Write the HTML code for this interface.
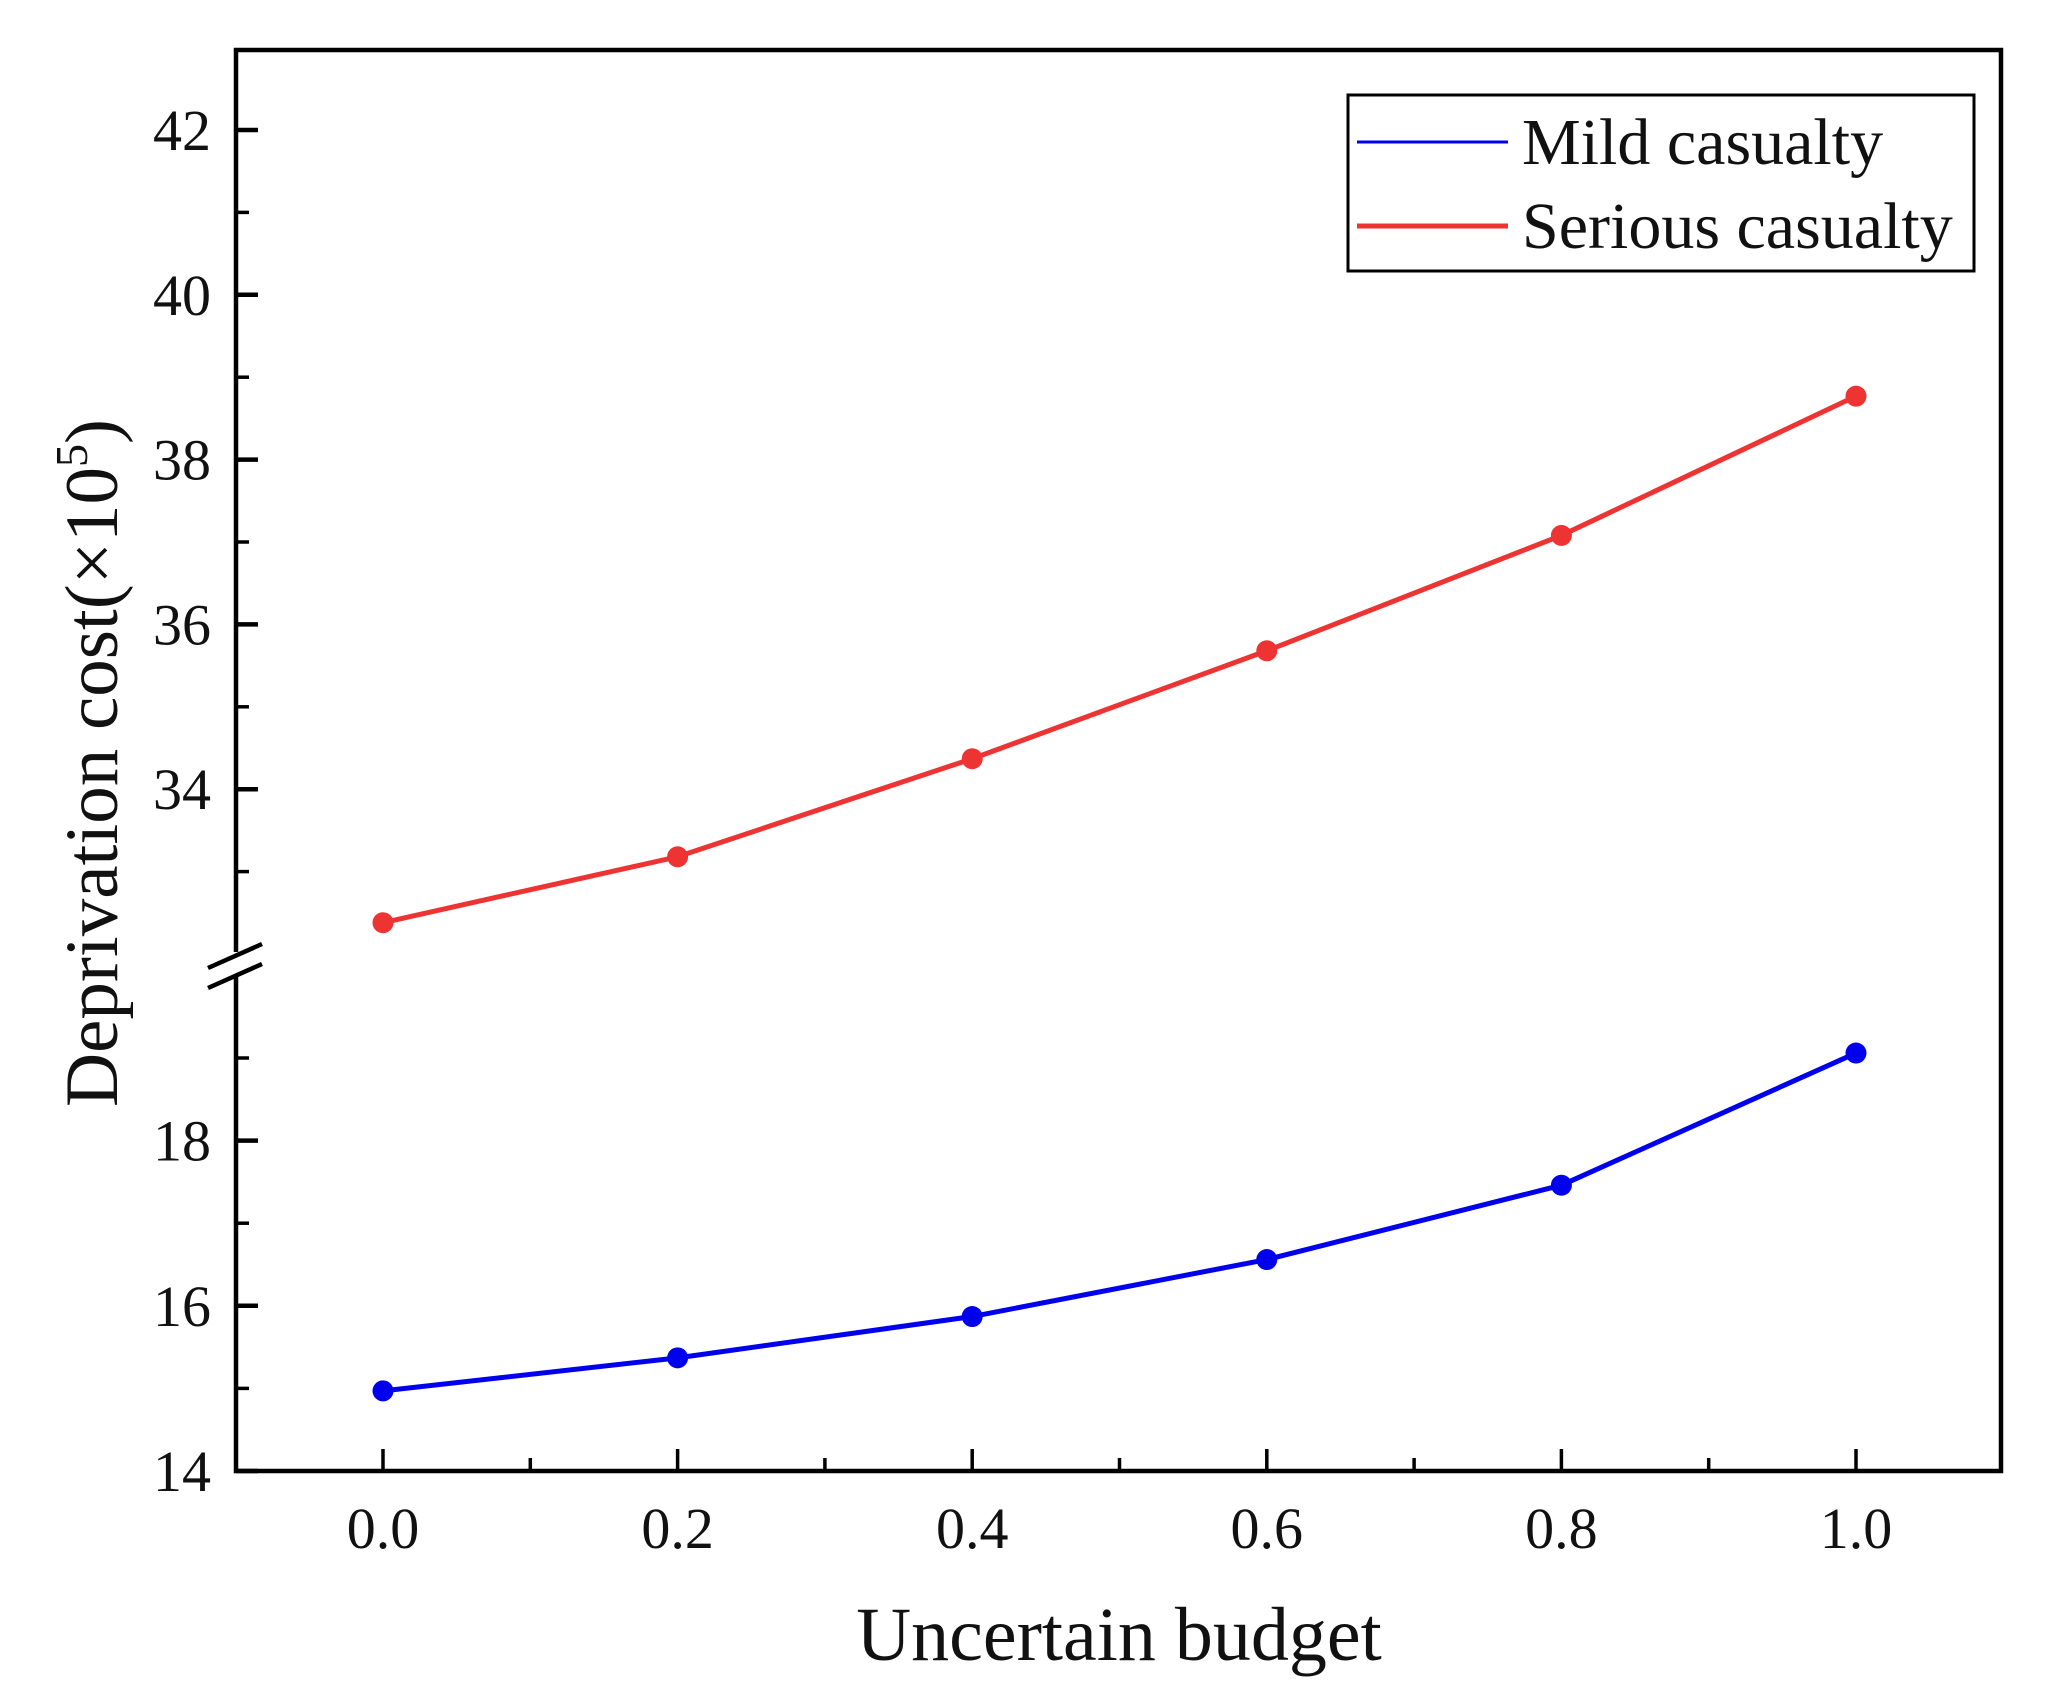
<!DOCTYPE html>
<html><head><meta charset="utf-8"><style>
html,body{margin:0;padding:0;background:#fff;}
svg{display:block;}
text{font-family:"Liberation Serif",serif;fill:#111;}
</style></head><body>
<svg id="chart" width="2055" height="1704" viewBox="0 0 2055 1704" xmlns="http://www.w3.org/2000/svg">
<g id="marks"></g>
</svg>
<script>
const xCats = [0.0, 0.2, 0.4, 0.6, 0.8, 1.0];
const xTickLabels = ["0.0","0.2","0.4","0.6","0.8","1.0"];
const mildValues = [14.97, 15.37, 15.87, 16.56, 17.46, 19.06];
const seriousValues = [32.38, 33.18, 34.37, 35.68, 37.08, 38.77];
const lowerTicks = [14, 16, 18];
const lowerMinor = [15, 17, 19];
const upperTicks = [34, 36, 38, 40, 42];
const upperMinor = [33, 35, 37, 39, 41];
const xMinor = [0.1, 0.3, 0.5, 0.7, 0.9];

const NS = "http://www.w3.org/2000/svg";
const L = 236, R = 2001, T = 50, B = 1471;
function xs(v){ return 383 + (v - 0) * (1856 - 383); }
function ys(v){
  if (v <= 25) return 1471 - (v - 14) * 82.6;
  return 130 + (42 - v) * 82.4;
}
const g = document.getElementById('marks');
function el(tag, attrs, parent){
  const e = document.createElementNS(NS, tag);
  for (const k in attrs) e.setAttribute(k, attrs[k]);
  (parent || g).appendChild(e);
  return e;
}

const frame = el('rect', {x:L, y:T, width:R-L, height:B-T, fill:'none', stroke:'#000', 'stroke-width':4.5});



const gap = el('rect', {x:L-6, y:952, width:12, height:24, fill:'#fff'});


[954, 974].forEach(function(yy){
  const b = el('line', {x1:L-28, y1:yy+14, x2:L+26, y2:yy-10, stroke:'#000', 'stroke-width':4.5});
  
  
});

lowerTicks.concat(upperTicks).forEach(function(v){
  const y = ys(v);
  const t = el('line', {x1:L, y1:y, x2:L+22, y2:y, stroke:'#000', 'stroke-width':4.5});
  
  
  const lb = el('text', {x:211, y:y+20, 'font-size':58, 'text-anchor':'end'});
  lb.textContent = String(v);
  
  
});
lowerMinor.concat(upperMinor).forEach(function(v){
  const y = ys(v);
  const t = el('line', {x1:L, y1:y, x2:L+13, y2:y, stroke:'#000', 'stroke-width':3.5});
  
  
});

xCats.forEach(function(v, i){
  const x = xs(v);
  const t = el('line', {x1:x, y1:B, x2:x, y2:B-22, stroke:'#000', 'stroke-width':3.5});
  
  
  const lb = el('text', {x:x, y:1548, 'font-size':58, 'text-anchor':'middle'});
  lb.textContent = xTickLabels[i];
  
  
});
xMinor.forEach(function(v){
  const x = xs(v);
  const t = el('line', {x1:x, y1:B, x2:x, y2:B-13, stroke:'#000', 'stroke-width':3.5});
  
  
});

function drawSeries(vals, color, name){
  const pts = xCats.map(function(c, i){ return xs(c) + ',' + ys(vals[i]); }).join(' ');
  const pl = el('polyline', {points:pts, fill:'none', stroke:color, 'stroke-width':5});
  
  
  xCats.forEach(function(c, i){
    const p = el('circle', {cx:xs(c), cy:ys(vals[i]), r:10.5, fill:color});
    
    
  });
}
drawSeries(seriousValues, '#ee3333', 'serious-casualty');
drawSeries(mildValues, '#0000ee', 'mild-casualty');

const lg = el('g', {});


el('rect', {x:1348, y:95, width:626, height:176, fill:'#fff', stroke:'#000', 'stroke-width':3}, lg);
const e1 = el('line', {x1:1357, y1:142, x2:1508, y2:142, stroke:'#0000ee', 'stroke-width':3}, lg);


const t1 = el('text', {x:1522, y:164, 'font-size':66}, lg);
t1.textContent = 'Mild casualty';


const e2 = el('line', {x1:1357, y1:226, x2:1508, y2:226, stroke:'#ee3333', 'stroke-width':5}, lg);


const t2 = el('text', {x:1522, y:248, 'font-size':66}, lg);
t2.textContent = 'Serious casualty';



const xt = el('text', {x:1119, y:1660, 'font-size':76, 'text-anchor':'middle'});
xt.textContent = 'Uncertain budget';


const yt = el('text', {x:0, y:0, 'font-size':75, 'text-anchor':'middle', transform:'translate(117,763) rotate(-90)'});
yt.innerHTML = 'Deprivation cost(\u00d710<tspan dy="-30" font-size="46">5</tspan><tspan dy="30">)</tspan>';


</script>
</body></html>
